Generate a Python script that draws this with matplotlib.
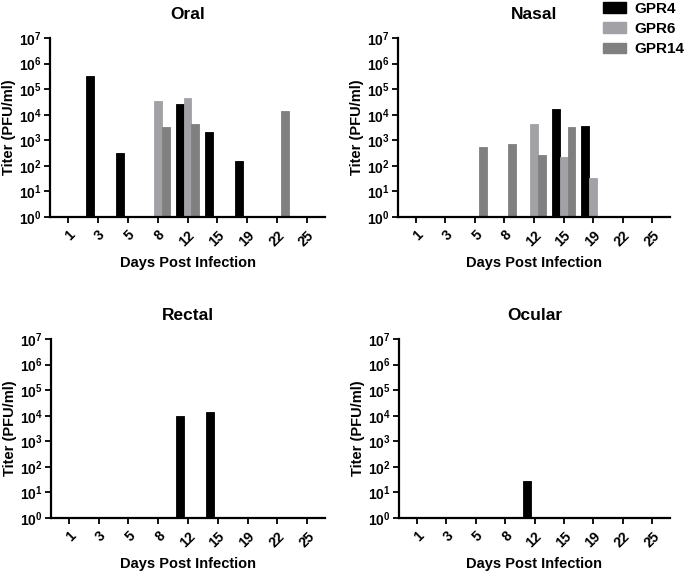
import matplotlib
matplotlib.use("Agg")
import matplotlib.pyplot as plt
from matplotlib.patches import Patch
import numpy as np

days = ["1", "3", "5", "8", "12", "15", "19", "22", "25"]
groups = ["GPR4", "GPR6", "GPR14"]
colors = ["#000000", "#a2a2a6", "#808080"]

# titers (PFU/ml), 0 = not detected
oral_gpr4 = [0, 3.2e5, 3.2e2, 0, 2.6e4, 2.2e3, 1.6e2, 0, 0]
oral_gpr6 = [0, 0, 0, 3.4e4, 4.5e4, 0, 0, 0, 0]
oral_gpr14 = [0, 0, 0, 3.2e3, 4.4e3, 0, 0, 1.45e4, 0]

nasal_gpr4 = [0, 0, 0, 0, 0, 1.6e4, 3.5e3, 0, 0]
nasal_gpr6 = [0, 0, 0, 0, 4.4e3, 2.2e2, 33, 0, 0]
nasal_gpr14 = [0, 0, 5.7e2, 7.2e2, 2.7e2, 3.2e3, 0, 0, 0]

rectal_gpr4 = [0, 0, 0, 0, 9.5e3, 1.4e4, 0, 0, 0]
rectal_gpr6 = [0, 0, 0, 0, 0, 0, 0, 0, 0]
rectal_gpr14 = [0, 0, 0, 0, 0, 0, 0, 0, 0]

ocular_gpr4 = [0, 0, 0, 0, 27, 0, 0, 0, 0]
ocular_gpr6 = [0, 0, 0, 0, 0, 0, 0, 0, 0]
ocular_gpr14 = [0, 0, 0, 0, 0, 0, 0, 0, 0]

panels = [
    ("Oral", [oral_gpr4, oral_gpr6, oral_gpr14]),
    ("Nasal", [nasal_gpr4, nasal_gpr6, nasal_gpr14]),
    ("Rectal", [rectal_gpr4, rectal_gpr6, rectal_gpr14]),
    ("Ocular", [ocular_gpr4, ocular_gpr6, ocular_gpr14]),
]

plt.rcParams['font.family'] = ['Liberation Sans', 'DejaVu Sans']
plt.rcParams['font.weight'] = 'bold'
plt.rcParams['mathtext.fontset'] = 'custom'
plt.rcParams['mathtext.bf'] = 'Liberation Sans:bold'
plt.rcParams['mathtext.rm'] = 'Liberation Sans:bold'

fig = plt.figure(figsize=(6.85, 5.72), dpi=100)
W, H = 685.0, 572.0
# axes boxes in pixels: left, top, right, bottom
boxes = [(50, 38, 325, 217), (398, 38, 670, 217),
         (51, 339, 325, 518), (399, 339, 670, 518)]

x = np.arange(len(days))
bw = 0.267
offsets = [-bw, 0, bw]

for (title, series), (l, t, r, b) in zip(panels, boxes):
    ax = fig.add_axes([l / W, 1 - b / H, (r - l) / W, (b - t) / H])
    for vals, off, c in zip(series, offsets, colors):
        v = np.array(vals, dtype=float)
        mask = v > 0
        ax.bar(x[mask] + off, v[mask] - 1, bottom=1, width=bw, color=c,
               edgecolor=c, linewidth=0.6)
    ax.set_yscale('log')
    ax.set_ylim(1, 1e7)
    ax.set_xlim(-0.6, 8.6)
    ax.set_yticks([10.0 ** k for k in range(8)])
    ax.set_yticklabels([r"$\mathbf{10^{%d}}$" % k for k in range(8)])
    ax.minorticks_off()
    ax.set_xticks(x)
    ax.set_xticklabels(days, rotation=45, ha='right', va='top',
                       rotation_mode='anchor')
    ax.tick_params(axis='both', labelsize=10, width=1.3, length=4,
                   direction='out')
    ax.tick_params(axis='x', pad=4)
    ax.tick_params(axis='y', pad=2)
    for sp in ['top', 'right']:
        ax.spines[sp].set_visible(False)
    for sp in ['left', 'bottom']:
        ax.spines[sp].set_linewidth(1.6)
    ax.set_title(title, fontsize=12.5, fontweight='bold', pad=14)
    ax.set_xlabel("Days Post Infection", fontsize=10.5, fontweight='bold',
                  labelpad=5)
    ax.set_ylabel("Titer (PFU/ml)", fontsize=10.5, fontweight='bold',
                  labelpad=2)

handles = [Patch(facecolor=c, edgecolor=c, label=g)
           for g, c in zip(groups, colors)]
fig.legend(handles=handles, loc='upper right',
           bbox_to_anchor=(684 / W, 1 - 2 / H),
           frameon=False, fontsize=11, handlelength=1.45, handleheight=0.7,
           labelspacing=0.4, handletextpad=0.55, borderpad=0,
           borderaxespad=0)

fig.savefig("out.png", dpi=100)
